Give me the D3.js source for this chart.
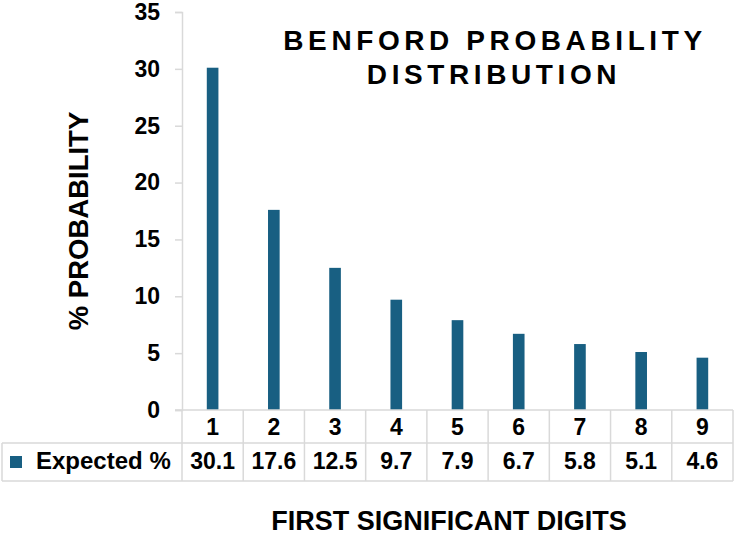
<!DOCTYPE html>
<html>
<head>
<meta charset="utf-8">
<script src="https://cdn.jsdelivr.net/npm/d3@7"></script>
<style>
body { margin: 0; background: #fff; }
text { font-family: "Liberation Sans", Arial, sans-serif; font-weight: bold; fill: #000; }
</style>
</head>
<body>
<script>
var width = 734, height = 538;

// data
var digits = ["1", "2", "3", "4", "5", "6", "7", "8", "9"];
var expected = [30.1, 17.6, 12.5, 9.7, 7.9, 6.7, 5.8, 5.1, 4.6];
var yTicks = [0, 5, 10, 15, 20, 25, 30, 35];
var seriesName = "Expected %";

var gridColor = "#d9d9d9";
var barColor = "#185f82";

var svg = d3.select("body").append("svg")
    .attr("width", width)
    .attr("height", height);

var x = d3.scaleBand().domain(digits).range([182, 733]);
var y = d3.scaleLinear().domain([0, 35]).range([410, 12]);

// y axis
var yAxis = svg.append("g")
    .attr("transform", "translate(182,0)")
    .call(d3.axisLeft(y).tickValues(yTicks).tickSize(7).tickPadding(15));
yAxis.select(".domain").attr("stroke", gridColor).attr("stroke-width", 1.5);
yAxis.selectAll(".tick line").attr("stroke", gridColor).attr("stroke-width", 1.5);
yAxis.selectAll(".tick text")
    .style("font-size", "23px")
    .style("font-family", "'Liberation Sans', Arial, sans-serif")
    .style("font-weight", "bold")
    .attr("fill", "#000");

// bars
var bw = x.bandwidth() * 0.19;
svg.selectAll("rect.bar")
    .data(expected)
    .enter().append("rect")
    .attr("class", "bar")
    .attr("x", function (d, i) { return x(digits[i]) + x.bandwidth() / 2 - bw / 2; })
    .attr("y", function (d) { return y(d); })
    .attr("width", bw)
    .attr("height", function (d) { return y(0) - y(d); })
    .attr("fill", barColor);

// data table
var row1 = 410, row2 = 443, row3 = 481;
var lines = svg.append("g").attr("stroke", gridColor).attr("stroke-width", 1.5);
lines.append("line").attr("x1", 175).attr("x2", 733).attr("y1", row1).attr("y2", row1);
lines.append("line").attr("x1", 2).attr("x2", 733).attr("y1", row2).attr("y2", row2);
lines.append("line").attr("x1", 2).attr("x2", 733).attr("y1", row3).attr("y2", row3);
lines.append("line").attr("x1", 2).attr("x2", 2).attr("y1", row2).attr("y2", row3);
lines.selectAll("line.col")
    .data(digits)
    .enter().append("line")
    .attr("class", "col")
    .attr("x1", function (d) { return x(d) + x.bandwidth(); })
    .attr("x2", function (d) { return x(d) + x.bandwidth(); })
    .attr("y1", row1).attr("y2", row3);
lines.append("line").attr("x1", 182).attr("x2", 182).attr("y1", row1).attr("y2", row3);

svg.selectAll("text.digit")
    .data(digits)
    .enter().append("text")
    .attr("class", "digit")
    .attr("x", function (d) { return x(d) + x.bandwidth() / 2; })
    .attr("y", 435)
    .attr("text-anchor", "middle")
    .style("font-size", "23px")
    .text(function (d) { return d; });

svg.selectAll("text.val")
    .data(expected)
    .enter().append("text")
    .attr("class", "val")
    .attr("x", function (d, i) { return x(digits[i]) + x.bandwidth() / 2; })
    .attr("y", 469)
    .attr("text-anchor", "middle")
    .style("font-size", "23px")
    .text(function (d) { return d3.format(".1f")(d); });

// legend key
svg.append("rect")
    .attr("x", 10).attr("y", 456)
    .attr("width", 12).attr("height", 12)
    .attr("fill", barColor);
svg.append("text")
    .attr("x", 36).attr("y", 469)
    .style("font-size", "24px")
    .text(seriesName);

// titles
var title = svg.append("text")
    .attr("text-anchor", "middle")
    .style("font-size", "28px")
    .style("letter-spacing", "4.6px");
title.append("tspan").attr("x", 495).attr("y", 50).text("BENFORD PROBABILITY");
title.append("tspan").attr("x", 494).attr("y", 84).text("DISTRIBUTION");

svg.append("text")
    .attr("text-anchor", "middle")
    .attr("transform", "translate(88,221) rotate(-90)")
    .style("font-size", "27.5px")
    .text("% PROBABILITY");

svg.append("text")
    .attr("x", 449).attr("y", 530)
    .attr("text-anchor", "middle")
    .style("font-size", "27px")
    .text("FIRST SIGNIFICANT DIGITS");
</script>
</body>
</html>
